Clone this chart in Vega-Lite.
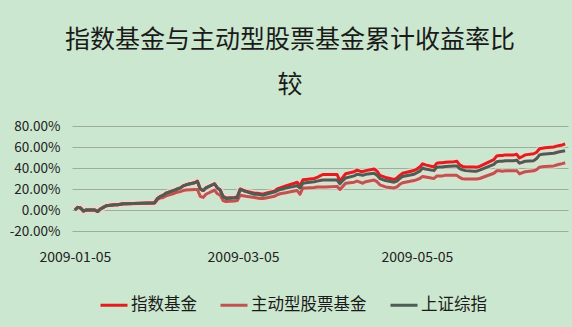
{
  "$schema": "https://vega.github.io/schema/vega-lite/v6.json",
  "width": 496,
  "height": 105,
  "autosize": {"type": "none"},
  "padding": {"left": 72, "top": 126, "right": 4, "bottom": 96},
  "background": "#cce7cf",
  "title": {
    "text": ["指数基金与主动型股票基金累计收益率比", "较"],
    "font": "Noto Sans CJK SC",
    "fontSize": 25,
    "fontWeight": "normal",
    "color": "#1a1a1a",
    "lineHeight": 45,
    "anchor": "middle",
    "frame": "group",
    "dx": -30,
    "offset": 21
  },
  "config": {
    "view": {"stroke": null},
    "axis": {
      "labelFont": "Noto Sans CJK SC",
      "labelColor": "#222222",
      "ticks": false,
      "domain": false,
      "title": null
    }
  },
  "data": {
    "format": {"parse": {"date": "date:'%Y-%m-%d'"}},
    "values": [
      {"date": "2009-01-05", "指数基金": 0, "主动型股票基金": 0, "上证综指": 0},
      {"date": "2009-01-06", "指数基金": 2.5, "主动型股票基金": 2.5, "上证综指": 2.5},
      {"date": "2009-01-07", "指数基金": 2, "主动型股票基金": 2, "上证综指": 2},
      {"date": "2009-01-08", "指数基金": -1, "主动型股票基金": -1, "上证综指": -1},
      {"date": "2009-01-09", "指数基金": 0, "主动型股票基金": 0, "上证综指": 0},
      {"date": "2009-01-12", "指数基金": 0, "主动型股票基金": 0, "上证综指": 0},
      {"date": "2009-01-13", "指数基金": -1.5, "主动型股票基金": -1.5, "上证综指": -1.5},
      {"date": "2009-01-14", "指数基金": 1, "主动型股票基金": 1, "上证综指": 1},
      {"date": "2009-01-15", "指数基金": 2.5, "主动型股票基金": 2.5, "上证综指": 2.5},
      {"date": "2009-01-16", "指数基金": 4, "主动型股票基金": 4, "上证综指": 4},
      {"date": "2009-01-19", "指数基金": 5, "主动型股票基金": 5, "上证综指": 5},
      {"date": "2009-01-20", "指数基金": 5, "主动型股票基金": 5, "上证综指": 5},
      {"date": "2009-01-21", "指数基金": 5.5, "主动型股票基金": 5.5, "上证综指": 5.5},
      {"date": "2009-01-22", "指数基金": 6, "主动型股票基金": 6, "上证综指": 6},
      {"date": "2009-01-23", "指数基金": 6, "主动型股票基金": 6, "上证综指": 6},
      {"date": "2009-02-02", "指数基金": 7, "主动型股票基金": 6.5, "上证综指": 7},
      {"date": "2009-02-03", "指数基金": 11, "主动型股票基金": 10, "上证综指": 11},
      {"date": "2009-02-04", "指数基金": 13, "主动型股票基金": 11.5, "上证综指": 13},
      {"date": "2009-02-05", "指数基金": 14, "主动型股票基金": 12, "上证综指": 14},
      {"date": "2009-02-06", "指数基金": 16, "主动型股票基金": 13.5, "上证综指": 16},
      {"date": "2009-02-09", "指数基金": 19, "主动型股票基金": 16, "上证综指": 19},
      {"date": "2009-02-10", "指数基金": 20, "主动型股票基金": 17, "上证综指": 20},
      {"date": "2009-02-11", "指数基金": 21, "主动型股票基金": 17.5, "上证综指": 21},
      {"date": "2009-02-12", "指数基金": 23, "主动型股票基金": 18.5, "上证综指": 23},
      {"date": "2009-02-13", "指数基金": 24, "主动型股票基金": 19, "上证综指": 24},
      {"date": "2009-02-16", "指数基金": 26, "主动型股票基金": 19.5, "上证综指": 26},
      {"date": "2009-02-17", "指数基金": 27.5, "主动型股票基金": 19.5, "上证综指": 27},
      {"date": "2009-02-18", "指数基金": 20, "主动型股票基金": 13, "上证综指": 20},
      {"date": "2009-02-19", "指数基金": 18.5, "主动型股票基金": 12, "上证综指": 18.5},
      {"date": "2009-02-20", "指数基金": 21, "主动型股票基金": 15, "上证综指": 21},
      {"date": "2009-02-23", "指数基金": 25, "主动型股票基金": 19, "上证综指": 25},
      {"date": "2009-02-24", "指数基金": 21, "主动型股票基金": 15.5, "上证综指": 21},
      {"date": "2009-02-25", "指数基金": 19, "主动型股票基金": 14, "上证综指": 19},
      {"date": "2009-02-26", "指数基金": 13, "主动型股票基金": 9, "上证综指": 12.5},
      {"date": "2009-02-27", "指数基金": 11.5, "主动型股票基金": 8, "上证综指": 11},
      {"date": "2009-03-02", "指数基金": 12, "主动型股票基金": 8.5, "上证综指": 11.5},
      {"date": "2009-03-03", "指数基金": 12.5, "主动型股票基金": 9, "上证综指": 12},
      {"date": "2009-03-04", "指数基金": 20, "主动型股票基金": 14, "上证综指": 19.5},
      {"date": "2009-03-05", "指数基金": 19, "主动型股票基金": 13.5, "上证综指": 18.5},
      {"date": "2009-03-06", "指数基金": 18, "主动型股票基金": 13, "上证综指": 17.5},
      {"date": "2009-03-09", "指数基金": 16, "主动型股票基金": 12, "上证综指": 15},
      {"date": "2009-03-10", "指数基金": 16, "主动型股票基金": 11.5, "上证综指": 15},
      {"date": "2009-03-11", "指数基金": 15.5, "主动型股票基金": 11, "上证综指": 14.5},
      {"date": "2009-03-12", "指数基金": 15, "主动型股票基金": 11, "上证综指": 14},
      {"date": "2009-03-13", "指数基金": 16, "主动型股票基金": 11.5, "上证综指": 15},
      {"date": "2009-03-16", "指数基金": 18, "主动型股票基金": 13, "上证综指": 17},
      {"date": "2009-03-17", "指数基金": 20, "主动型股票基金": 14.5, "上证综指": 18.5},
      {"date": "2009-03-18", "指数基金": 21, "主动型股票基金": 15.5, "上证综指": 19.5},
      {"date": "2009-03-19", "指数基金": 22, "主动型股票基金": 16, "上证综指": 20},
      {"date": "2009-03-20", "指数基金": 23, "主动型股票基金": 16.5, "上证综指": 21},
      {"date": "2009-03-23", "指数基金": 25.5, "主动型股票基金": 18, "上证综指": 22.5},
      {"date": "2009-03-24", "指数基金": 26.4, "主动型股票基金": 18.5, "上证综指": 23},
      {"date": "2009-03-25", "指数基金": 23, "主动型股票基金": 15, "上证综指": 21},
      {"date": "2009-03-26", "指数基金": 28.7, "主动型股票基金": 21, "上证综指": 25.5},
      {"date": "2009-03-27", "指数基金": 29, "主动型股票基金": 21, "上证综指": 26},
      {"date": "2009-03-30", "指数基金": 30, "主动型股票基金": 21.5, "上证综指": 27},
      {"date": "2009-03-31", "指数基金": 31, "主动型股票基金": 22, "上证综指": 27.5},
      {"date": "2009-04-01", "指数基金": 32.5, "主动型股票基金": 22, "上证综指": 28},
      {"date": "2009-04-02", "指数基金": 33.8, "主动型股票基金": 22, "上证综指": 28.5},
      {"date": "2009-04-03", "指数基金": 33.8, "主动型股票基金": 22, "上证综指": 28.5},
      {"date": "2009-04-07", "指数基金": 33.8, "主动型股票基金": 22.5, "上证综指": 28.5},
      {"date": "2009-04-08", "指数基金": 27.5, "主动型股票基金": 19.5, "上证综指": 25},
      {"date": "2009-04-09", "指数基金": 31, "主动型股票基金": 22.5, "上证综指": 28},
      {"date": "2009-04-10", "指数基金": 34.5, "主动型股票基金": 25.5, "上证综指": 30.5},
      {"date": "2009-04-13", "指数基金": 36.5, "主动型股票基金": 26.5, "上证综指": 32.5},
      {"date": "2009-04-14", "指数基金": 38, "主动型股票基金": 27.5, "上证综指": 34},
      {"date": "2009-04-15", "指数基金": 37, "主动型股票基金": 26.5, "上证综指": 33.5},
      {"date": "2009-04-16", "指数基金": 36.5, "主动型股票基金": 25.5, "上证综指": 33},
      {"date": "2009-04-17", "指数基金": 37.5, "主动型股票基金": 27, "上证综指": 34},
      {"date": "2009-04-20", "指数基金": 39, "主动型股票基金": 28.5, "上证综指": 35},
      {"date": "2009-04-21", "指数基金": 37, "主动型股票基金": 27, "上证综指": 33},
      {"date": "2009-04-22", "指数基金": 33, "主动型股票基金": 24, "上证综指": 30},
      {"date": "2009-04-23", "指数基金": 32, "主动型股票基金": 23, "上证综指": 29},
      {"date": "2009-04-24", "指数基金": 31, "主动型股票基金": 22, "上证综指": 28},
      {"date": "2009-04-27", "指数基金": 29, "主动型股票基金": 21, "上证综指": 26.5},
      {"date": "2009-04-28", "指数基金": 30.5, "主动型股票基金": 22, "上证综指": 27.5},
      {"date": "2009-04-29", "指数基金": 33, "主动型股票基金": 24.5, "上证综指": 30},
      {"date": "2009-04-30", "指数基金": 35, "主动型股票基金": 26, "上证综指": 32},
      {"date": "2009-05-04", "指数基金": 37.6, "主动型股票基金": 28, "上证综指": 34},
      {"date": "2009-05-05", "指数基金": 39, "主动型股票基金": 29, "上证综指": 35.5},
      {"date": "2009-05-06", "指数基金": 41, "主动型股票基金": 30, "上证综指": 37},
      {"date": "2009-05-07", "指数基金": 44, "主动型股票基金": 32, "上证综指": 40},
      {"date": "2009-05-08", "指数基金": 43, "主动型股票基金": 31.5, "上证综指": 39},
      {"date": "2009-05-11", "指数基金": 41, "主动型股票基金": 30, "上证综指": 37.5},
      {"date": "2009-05-12", "指数基金": 44.6, "主动型股票基金": 32.5, "上证综指": 40.8},
      {"date": "2009-05-13", "指数基金": 45, "主动型股票基金": 32.5, "上证综指": 41},
      {"date": "2009-05-14", "指数基金": 45, "主动型股票基金": 32.5, "上证综指": 41},
      {"date": "2009-05-15", "指数基金": 45.5, "主动型股票基金": 33, "上证综指": 41.5},
      {"date": "2009-05-18", "指数基金": 46, "主动型股票基金": 33, "上证综指": 42},
      {"date": "2009-05-19", "指数基金": 46.5, "主动型股票基金": 33, "上证综指": 42},
      {"date": "2009-05-20", "指数基金": 43, "主动型股票基金": 31, "上证综指": 39.5},
      {"date": "2009-05-21", "指数基金": 41.5, "主动型股票基金": 29.7, "上证综指": 38.3},
      {"date": "2009-05-22", "指数基金": 41, "主动型股票基金": 29.5, "上证综指": 37.5},
      {"date": "2009-05-25", "指数基金": 41, "主动型股票基金": 29.5, "上证综指": 37},
      {"date": "2009-05-26", "指数基金": 40.8, "主动型股票基金": 29.5, "上证综指": 37},
      {"date": "2009-05-27", "指数基金": 41.5, "主动型股票基金": 30, "上证综指": 38},
      {"date": "2009-06-01", "指数基金": 48, "主动型股票基金": 35, "上证综指": 43.5},
      {"date": "2009-06-02", "指数基金": 51.5, "主动型股票基金": 37.3, "上证综指": 46},
      {"date": "2009-06-03", "指数基金": 52, "主动型股票基金": 37.3, "上证综指": 46.5},
      {"date": "2009-06-04", "指数基金": 52, "主动型股票基金": 37, "上证综指": 46.5},
      {"date": "2009-06-05", "指数基金": 52.5, "主动型股票基金": 37.3, "上证综指": 47},
      {"date": "2009-06-08", "指数基金": 52.5, "主动型股票基金": 37.3, "上证综指": 47},
      {"date": "2009-06-09", "指数基金": 53, "主动型股票基金": 37.5, "上证综指": 47.5},
      {"date": "2009-06-10", "指数基金": 49.5, "主动型股票基金": 34.4, "上证综指": 44.6},
      {"date": "2009-06-11", "指数基金": 51, "主动型股票基金": 35.5, "上证综指": 45.5},
      {"date": "2009-06-12", "指数基金": 52.5, "主动型股票基金": 36.5, "上证综指": 46.5},
      {"date": "2009-06-15", "指数基金": 53.6, "主动型股票基金": 37.3, "上证综指": 47},
      {"date": "2009-06-16", "指数基金": 55, "主动型股票基金": 38.5, "上证综指": 49},
      {"date": "2009-06-17", "指数基金": 58.3, "主动型股票基金": 40.8, "上证综指": 52.5},
      {"date": "2009-06-18", "指数基金": 58.8, "主动型股票基金": 41.2, "上证综指": 53},
      {"date": "2009-06-19", "指数基金": 59.3, "主动型股票基金": 41.5, "上证综指": 53.4},
      {"date": "2009-06-22", "指数基金": 60, "主动型股票基金": 42, "上证综指": 54},
      {"date": "2009-06-23", "指数基金": 60.8, "主动型股票基金": 42.8, "上证综指": 54.8},
      {"date": "2009-06-24", "指数基金": 61.5, "主动型股票基金": 43.5, "上证综指": 55.5},
      {"date": "2009-06-25", "指数基金": 62, "主动型股票基金": 44.2, "上证综指": 56},
      {"date": "2009-06-26", "指数基金": 62.8, "主动型股票基金": 45, "上证综指": 56.5}
    ]
  },
  "transform": [
    {"fold": ["指数基金", "主动型股票基金", "上证综指"], "as": ["series", "value"]}
  ],
  "encoding": {
    "x": {
      "field": "date",
      "type": "temporal",
      "scale": {"domain": [{"year": 2009, "month": 1, "date": 4}, {"year": 2009, "month": 6, "date": 27}]},
      "axis": {
        "values": [{"year": 2009, "month": 1, "date": 5}, {"year": 2009, "month": 3, "date": 5}, {"year": 2009, "month": 5, "date": 5}],
        "format": "%Y-%m-%d",
        "grid": false,
        "labelFontSize": 14,
        "labelPadding": 19,
        "labelAngle": 0
      }
    },
    "y": {
      "field": "value",
      "type": "quantitative",
      "scale": {"domain": [-20, 80], "nice": false, "zero": false},
      "axis": {
        "values": [-20, 0, 20, 40, 60, 80],
        "labelExpr": "datum.value + '.00%'",
        "labelFontSize": 13.5,
        "labelPadding": 12,
        "grid": true,
        "gridColor": "#9eaba0",
        "gridWidth": 1,
        "gridOpacity": 1
      }
    }
  },
  "layer": [
    {
      "mark": {"type": "line", "strokeWidth": 6.5, "color": "#f2d6cf", "opacity": 0.55, "strokeJoin": "round"},
      "encoding": {"detail": {"field": "series"}}
    },
    {
      "mark": {"type": "line", "strokeWidth": 3, "strokeJoin": "round"},
      "encoding": {
        "color": {
          "field": "series",
          "type": "nominal",
          "scale": {
            "domain": ["指数基金", "主动型股票基金", "上证综指"],
            "range": ["#de1f1f", "#bb5550", "#4d5d53"]
          },
          "legend": {
            "orient": "none",
            "legendX": 27,
            "legendY": 164,
            "direction": "horizontal",
            "title": null,
            "symbolType": "stroke",
            "symbolSize": 729,
            "symbolStrokeWidth": 3,
            "labelFont": "Noto Sans CJK SC",
            "labelFontSize": 16.5,
            "labelColor": "#1a1a1a",
            "labelOffset": 2,
            "columnPadding": 17,
            "labelLimit": 200
          }
        }
      }
    }
  ]
}
